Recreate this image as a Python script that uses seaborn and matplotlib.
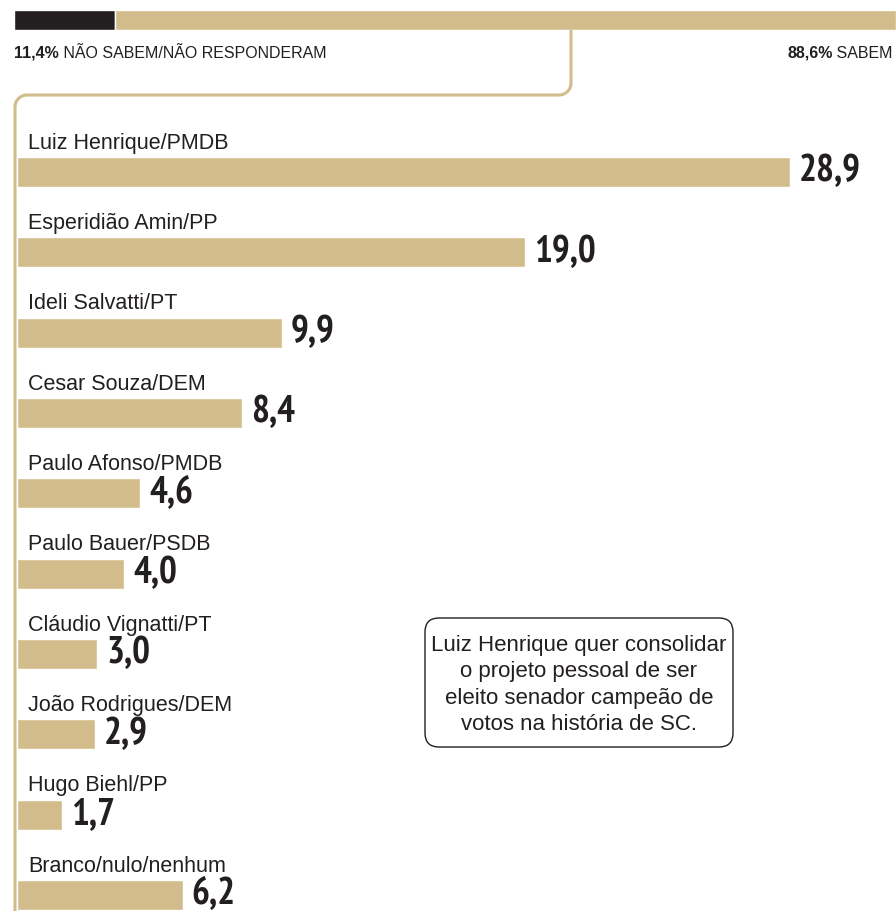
import matplotlib
matplotlib.use("Agg")
import matplotlib.pyplot as plt
from matplotlib import font_manager as fm
from matplotlib.patches import FancyBboxPatch
import numpy as np
import seaborn as sns

# ── Data ───────────────────────────────────────────────────────────────────────
candidates = [
    "Luiz Henrique/PMDB", "Esperidião Amin/PP", "Ideli Salvatti/PT",
    "Cesar Souza/DEM", "Paulo Afonso/PMDB", "Paulo Bauer/PSDB",
    "Cláudio Vignatti/PT", "João Rodrigues/DEM", "Hugo Biehl/PP",
    "Branco/nulo/nenhum",
]
votes = [28.9, 19.0, 9.9, 8.4, 4.6, 4.0, 3.0, 2.9, 1.7, 6.2]

know_labels = ["NÃO SABEM/NÃO RESPONDERAM", "SABEM"]
know_values = [11.4, 88.6]

note = ("Luiz Henrique quer consolidar\no projeto pessoal de ser\n"
        "eleito senador campeão de\nvotos na história de SC.")

GOLD = "#d3bc8b"
DARK = "#231f20"
W, H = 896, 912

sns.set_theme(style="white")
plt.rcParams["font.family"] = ["Liberation Sans", "DejaVu Sans"]

# condensed bold face for the big numbers, if one is installed
narrow = [f for f in fm.fontManager.ttflist
          if ("Narrow" in f.name or "Condensed" in f.name
              or f.stretch in ("condensed", "semi-condensed"))]
narrow.sort(key=lambda f: (0 if "Narrow" in f.name else 1,
                           -int(f.weight if isinstance(f.weight, int) else 700)))
if narrow:
    num_font = fm.FontProperties(fname=narrow[0].fname, size=27)
else:
    num_font = fm.FontProperties(family="Liberation Sans", weight="bold", size=24)


def fx(px):
    return px / W


def fy(py):
    return 1 - py / H


fig = plt.figure(figsize=(W / 100, H / 100), dpi=100)

# ── Top stacked bar ────────────────────────────────────────────────────────────
top = fig.add_axes([fx(14), fy(31), fx(W - 14), 20 / H])
lefts = np.concatenate([[0], np.cumsum(know_values)[:-1]])
top.barh([0] * len(know_values), know_values, left=lefts,
         color=[DARK, GOLD], height=1.0)
top.set_xlim(0, 100)
top.set_ylim(-0.5, 0.5)
top.axis("off")

# ── Candidate bars ─────────────────────────────────────────────────────────────
bar_left, bar_top = 17, 100
px_per_unit = (790 - bar_left) / votes[0]
row_step = (896 - 173) / 9
ax = fig.add_axes([fx(bar_left), 0, fx(W - bar_left), fy(bar_top)])
sns.barplot(x=votes, y=candidates, orient="h", color=GOLD, saturation=1,
            width=30 / row_step, ax=ax)
ax.set_xlim(0, (W - bar_left) / px_per_unit)
ax.set_ylim(9 + (H - 896) / row_step, -(173 - bar_top) / row_step)
ax.axis("off")

for i, (name, v) in enumerate(zip(candidates, votes)):
    ax.annotate(name, (0, i), xytext=(11, 30), textcoords="offset pixels",
                ha="left", va="center", fontsize=15.5, color=DARK)
    ax.annotate(f"{v:.1f}".replace(".", ","), (v, i), xytext=(9, 1),
                textcoords="offset pixels", ha="left", va="center",
                fontproperties=num_font, color=DARK)

# ── Overlay: connector, labels, note ───────────────────────────────────────────
ov = fig.add_axes([0, 0, 1, 1], facecolor="none")
ov.set_xlim(0, W)
ov.set_ylim(H, 0)
ov.axis("off")

r = 12
t1 = np.linspace(0, np.pi / 2, 20)
t2 = np.linspace(1.5 * np.pi, np.pi, 20)
xs = np.concatenate([[571], 559 + r * np.cos(t1), 27 + r * np.cos(t2), [15]])
ys = np.concatenate([[31], 84 + r * np.sin(t1), 108 + r * np.sin(t2), [H]])
ov.plot(xs, ys, color=GOLD, lw=2.2, solid_capstyle="butt")

a = ov.text(14, 53, f"{know_values[0]:.1f}%".replace(".", ","), fontsize=11.5,
            fontweight="bold", color=DARK, ha="left", va="center")
ov.annotate(" " + know_labels[0], xy=(1, 0.5), xycoords=a, ha="left",
            va="center", fontsize=11.5, color=DARK)
b = ov.text(893, 53, " " + know_labels[1], fontsize=11.5, color=DARK,
            ha="right", va="center")
ov.annotate(f"{know_values[1]:.1f}%".replace(".", ","), xy=(0, 0.5),
            xycoords=b, ha="right", va="center", fontsize=11.5,
            fontweight="bold", color=DARK)

ov.add_patch(FancyBboxPatch((425, 619), 308, 129,
                            boxstyle="round,pad=0,rounding_size=14",
                            fc="white", ec=DARK, lw=1))
ov.text(579, 685, note, ha="center", va="center", fontsize=16, color=DARK,
        linespacing=1.35)

fig.savefig("out.png", dpi=100)
